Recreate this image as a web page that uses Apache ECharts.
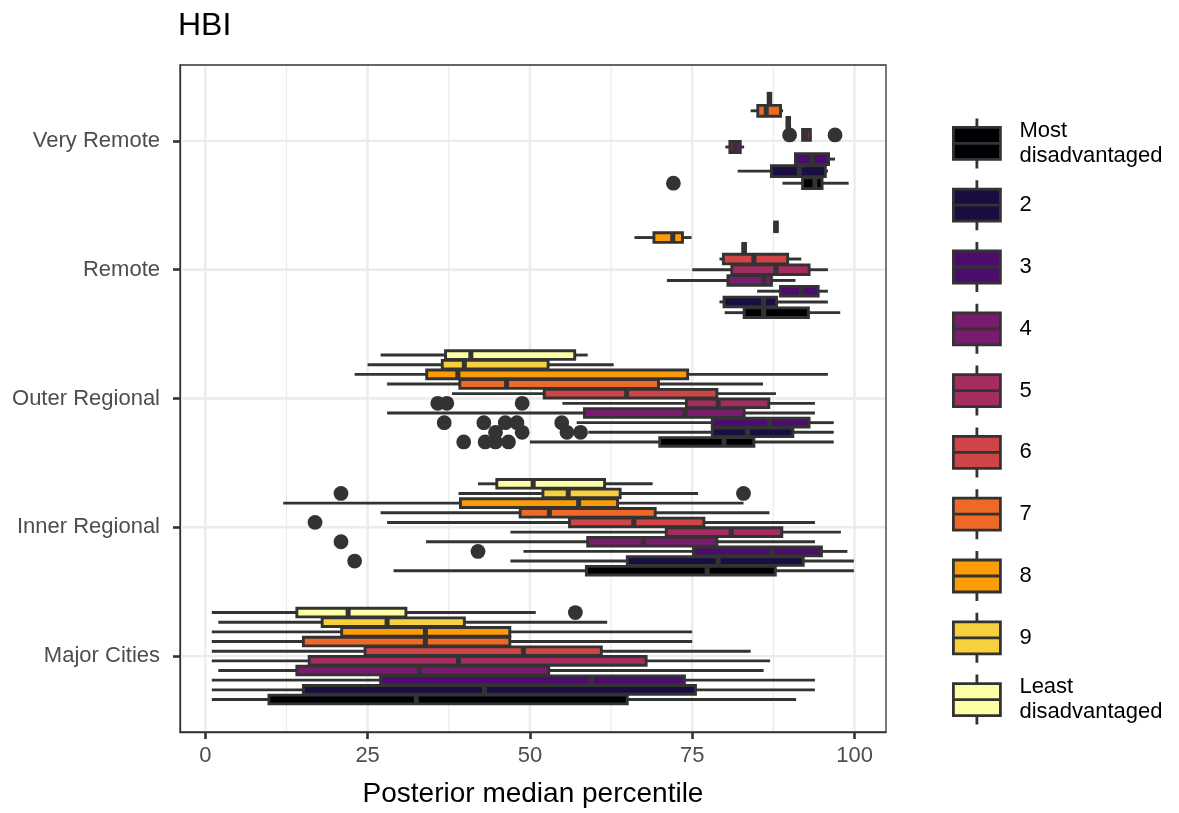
<!DOCTYPE html>
<html><head><meta charset="utf-8">
<script src="https://cdn.jsdelivr.net/npm/echarts@6/dist/echarts.min.js"></script>
<style>html,body{margin:0;padding:0;background:#fff}#chart{width:1179px;height:813px}</style>
</head><body><div id="chart"></div>
<script>
const categories = ['Major Cities', 'Inner Regional', 'Outer Regional', 'Remote', 'Very Remote'];
const groupNames = ['Most\ndisadvantaged', '2', '3', '4', '5', '6', '7', '8', '9', 'Least\ndisadvantaged'];
const groupColors = ['#000004', '#1B0C42', '#4B0C6B', '#781C6D', '#A52C60', '#CF4446', '#ED6925', '#FB9B06', '#F7D13D', '#FCFFA4'];
const xTicks = [0, 25, 50, 75, 100];
const xMinorTicks = [12.5, 37.5, 62.5, 87.5];
const yTicks = [1, 2, 3, 4, 5];

// box stats per group: [lower whisker, Q1, median, Q3, upper whisker]
const majorCitiesGroups = [1, 2, 3, 4, 5, 6, 7, 8, 9, 10];
const majorCitiesStats = [
  [1.0, 9.8, 32.5, 65.0, 91.0],
  [1.0, 15.1, 43.0, 75.5, 93.9],
  [1.0, 27.0, 59.5, 73.8, 93.9],
  [2.0, 14.1, 33.0, 52.9, 86.0],
  [1.0, 16.0, 39.0, 67.9, 87.0],
  [1.0, 24.6, 49.0, 61.0, 84.0],
  [1.0, 15.1, 33.9, 46.9, 75.0],
  [1.0, 21.0, 33.9, 46.9, 75.0],
  [2.0, 18.0, 28.0, 39.9, 61.9],
  [1.0, 14.1, 22.0, 30.9, 50.9]
];
const majorCitiesOutliers = [[10, 57.0]];

const innerRegionalGroups = [1, 2, 3, 4, 5, 6, 7, 8, 9, 10];
const innerRegionalStats = [
  [29.0, 58.7, 77.3, 87.8, 99.9],
  [47.0, 65.0, 79.0, 92.1, 99.9],
  [49.0, 75.2, 87.3, 94.9, 98.9],
  [34.0, 58.9, 67.5, 78.8, 93.9],
  [47.0, 71.0, 81.0, 88.8, 97.9],
  [28.0, 56.1, 66.0, 76.8, 93.9],
  [27.0, 48.5, 53.0, 69.3, 86.9],
  [12.0, 39.3, 57.5, 63.5, 82.9],
  [39.0, 52.0, 55.9, 63.9, 75.9],
  [42.0, 44.9, 50.5, 61.5, 68.9]
];
const innerRegionalOutliers = [[2, 23.0], [3, 42.0], [4, 20.9], [6, 16.9], [9, 20.9], [9, 82.9]];

const outerRegionalGroups = [1, 2, 3, 4, 5, 6, 7, 8, 9, 10];
const outerRegionalStats = [
  [50.0, 70.0, 79.9, 84.5, 96.8],
  [59.0, 78.1, 83.5, 90.5, 96.8],
  [57.2, 78.1, 86.9, 93.0, 96.8],
  [28.0, 58.4, 73.9, 83.0, 93.9],
  [55.0, 74.1, 79.0, 86.8, 93.9],
  [38.0, 52.2, 64.9, 78.8, 87.9],
  [28.0, 39.2, 46.4, 69.8, 85.9],
  [23.0, 34.1, 38.9, 74.3, 95.9],
  [25.0, 36.5, 39.9, 52.8, 62.9],
  [27.0, 37.0, 40.9, 56.9, 58.9]
];
const outerRegionalOutliers = [
  [1, 39.8], [1, 43.1], [1, 44.7], [1, 46.7],
  [2, 44.7], [2, 48.8], [2, 55.7], [2, 57.8],
  [3, 36.8], [3, 42.9], [3, 46.2], [3, 48.0], [3, 54.9],
  [5, 35.8], [5, 37.2], [5, 48.8]
];

const remoteGroups = [1, 2, 3, 4, 5, 6, 7, 8, 9];
const remoteStats = [
  [80.0, 83.0, 86.0, 92.9, 97.8],
  [79.2, 79.9, 86.0, 88.0, 95.9],
  [85.0, 88.6, 91.8, 94.4, 95.9],
  [71.1, 80.5, 86.0, 87.2, 90.9],
  [75.0, 81.1, 87.9, 93.0, 95.9],
  [79.2, 79.8, 84.5, 89.7, 91.8],
  [82.8, 82.8, 83.0, 83.2, 83.2],
  [66.1, 69.1, 72.0, 73.5, 74.9],
  [87.7, 87.7, 87.9, 88.1, 88.1]
];
const remoteOutliers = [];

const veryRemoteGroups = [1, 2, 3, 4, 5, 6, 7, 8];
const veryRemoteStats = [
  [88.9, 92.0, 93.9, 95.0, 99.1],
  [82.0, 87.2, 91.5, 95.5, 95.9],
  [90.9, 90.9, 93.5, 96.0, 97.0],
  [80.1, 80.8, 81.6, 82.4, 83.0],
  [92.0, 92.0, 92.5, 93.2, 93.2],
  [89.6, 89.6, 89.8, 90.0, 90.0],
  [84.0, 85.1, 86.4, 88.6, 89.0],
  [86.7, 86.7, 86.9, 87.1, 87.1]
];
const veryRemoteOutliers = [[1, 72.1], [5, 90.0], [5, 97.0]];

// ---------- build series data ----------
const catBlocks = [
  [majorCitiesGroups, majorCitiesStats, majorCitiesOutliers],
  [innerRegionalGroups, innerRegionalStats, innerRegionalOutliers],
  [outerRegionalGroups, outerRegionalStats, outerRegionalOutliers],
  [remoteGroups, remoteStats, remoteOutliers],
  [veryRemoteGroups, veryRemoteStats, veryRemoteOutliers]
];
const seriesData = groupNames.map(() => []);
const seriesOutliers = groupNames.map(() => []);
catBlocks.forEach((blk, ci) => {
  const [groups, stats, outs] = blk;
  const n = groups.length;
  groups.forEach((g, si) => {
    const s = stats[si];
    seriesData[g - 1].push([ci + 1, si, n, s[0], s[1], s[2], s[3], s[4]]);
    seriesOutliers[g - 1].push(outs.filter(o => o[0] === g).map(o => o[1]));
  });
});

const BORDER = '#333333';
const LW = 2.9;

function renderBox(params, api) {
  const cat = api.value(0), slot = api.value(1), n = api.value(2);
  const lo = api.value(3), q1 = api.value(4), med = api.value(5), q3 = api.value(6), hi = api.value(7);
  const unit = Math.abs(api.size([0, 1])[1]);
  const slotH = unit * 0.75 / n;
  const cy = api.coord([0, cat])[1] + ((n - 1) / 2 - slot) * slotH;
  const boxH = slotH * 0.9;
  const X = v => api.coord([v, cat])[0];
  const color = groupColors[params.seriesIndex - 1];
  const children = [];
  const outs = seriesOutliers[params.seriesIndex - 1][params.dataIndex] || [];
  outs.forEach(v => {
    children.push({ type: 'circle', shape: { cx: X(v), cy: cy, r: 7.4 }, style: { fill: BORDER } });
  });
  if (lo < q1) children.push({ type: 'line', shape: { x1: X(lo), y1: cy, x2: X(q1), y2: cy }, style: { stroke: BORDER, lineWidth: LW } });
  if (hi > q3) children.push({ type: 'line', shape: { x1: X(q3), y1: cy, x2: X(hi), y2: cy }, style: { stroke: BORDER, lineWidth: LW } });
  children.push({ type: 'rect', shape: { x: X(q1), y: cy - boxH / 2, width: X(q3) - X(q1), height: boxH }, style: { fill: color, stroke: BORDER, lineWidth: LW } });
  children.push({ type: 'line', shape: { x1: X(med), y1: cy - boxH / 2, x2: X(med), y2: cy + boxH / 2 }, style: { stroke: BORDER, lineWidth: 5 } });
  return { type: 'group', children: children };
}

const gridLineData = [];
xTicks.forEach(v => gridLineData.push([0, v]));
xMinorTicks.forEach(v => gridLineData.push([1, v]));
yTicks.forEach(v => gridLineData.push([2, v]));

function renderGrid(params, api) {
  const kind = api.value(0), v = api.value(1);
  const cs = params.coordSys;
  if (kind === 2) {
    const y = api.coord([0, v])[1];
    return { type: 'line', shape: { x1: cs.x + 1, y1: y, x2: cs.x + cs.width - 1, y2: y }, style: { stroke: '#EBEBEB', lineWidth: 2.3 } };
  }
  const x = api.coord([v, 1])[0];
  return { type: 'line', shape: { x1: x, y1: cs.y + 1, x2: x, y2: cs.y + cs.height - 1 }, style: { stroke: '#EBEBEB', lineWidth: kind === 0 ? 2.3 : 1.2 } };
}

const FONT = 'Liberation Sans, Arial, sans-serif';
const series = [{
  type: 'custom', name: '_grid', renderItem: renderGrid, data: gridLineData,
  encode: { x: 1, y: 0 }, silent: true, z: 1
}];
groupNames.forEach((nm, i) => {
  series.push({
    type: 'custom', name: nm, renderItem: renderBox, data: seriesData[i],
    encode: { x: [3, 4, 5, 6, 7], y: 0 },
    itemStyle: { color: groupColors[i] }, z: 2 + i
  });
});

const chart = echarts.init(document.getElementById('chart'), null, { renderer: 'canvas' });
chart.setOption({
  animation: false,
  backgroundColor: '#ffffff',
  textStyle: { fontFamily: FONT },
  title: { text: 'HBI', left: 178, top: 10, padding: 0, textStyle: { fontSize: 32, fontWeight: 'normal', color: '#000', fontFamily: FONT } },
  grid: { left: 180, top: 65, width: 706, height: 671, show: true, borderColor: BORDER, borderWidth: 1.3, backgroundColor: '#fff' },
  xAxis: {
    type: 'value', min: -3.9, max: 104.85,
    splitLine: { show: false },
    axisLine: { show: true, onZero: false, lineStyle: { color: BORDER, width: 1.3 } },
    axisTick: { show: true, customValues: xTicks, length: 7, lineStyle: { color: BORDER, width: 2.6 } },
    axisLabel: { customValues: xTicks, fontSize: 22, color: '#4D4D4D', margin: 13, fontFamily: FONT },
    name: 'Posterior median percentile', nameLocation: 'middle', nameGap: 48,
    nameTextStyle: { fontSize: 28, color: '#000', fontFamily: FONT }
  },
  yAxis: {
    type: 'value', min: 0.41, max: 5.59,
    splitLine: { show: false },
    axisLine: { show: true, onZero: false, lineStyle: { color: BORDER, width: 1.3 } },
    axisTick: { show: true, customValues: yTicks, length: 7, lineStyle: { color: BORDER, width: 2.6 } },
    axisLabel: { customValues: yTicks, fontSize: 22, color: '#4D4D4D', margin: 20, fontFamily: FONT,
      formatter: v => categories[Math.round(v) - 1] || '' }
  },
  legend: {
    data: groupNames,
    orient: 'vertical', left: 952, top: 117, padding: 0,
    itemWidth: 47, itemHeight: 50, itemGap: 9,
    icon: 'path://M0,9L47,9L47,41L0,41Z M0,25L47,25 M23.5,0L23.5,9 M23.5,41L23.5,50',
    itemStyle: { borderColor: BORDER, borderWidth: 2.8 },
    selectedMode: false,
    textStyle: { fontSize: 22, color: '#000', lineHeight: 25, fontFamily: FONT, padding: [0, 0, 0, 14] }
  },
  series: series
});
</script></body></html>
